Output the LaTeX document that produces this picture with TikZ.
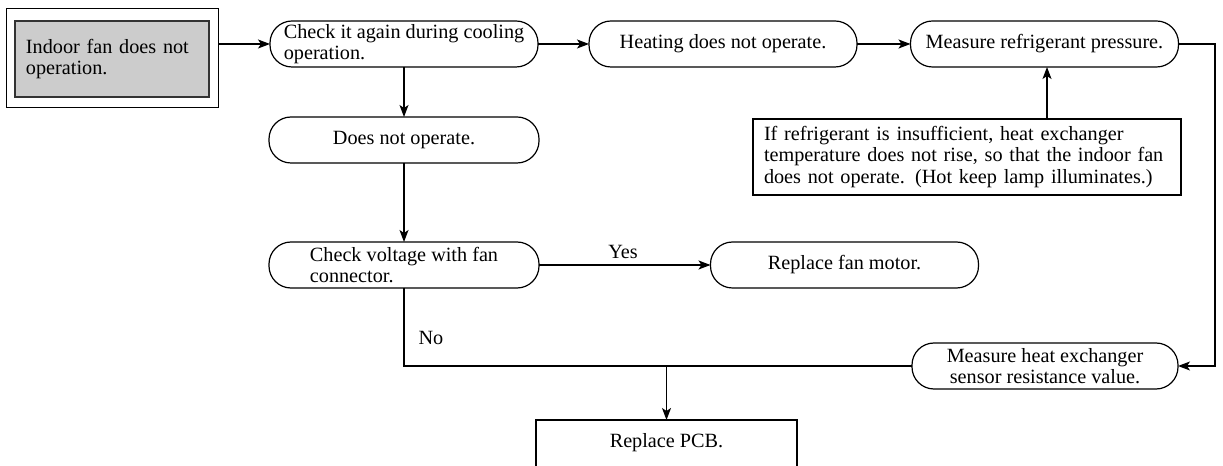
\documentclass[tikz,border=0pt]{standalone}
\usepackage{fontspec}
\setmainfont{Liberation Serif}
\usetikzlibrary{arrows.meta,calc}
\definecolor{boxgray}{HTML}{CCCCCC}
\begin{document}
\begin{tikzpicture}[x=1bp,y=-1bp,
  every node/.style={font=\fontsize{20.3}{21.5}\selectfont, inner sep=0pt, outer sep=0pt},
  pill/.style={draw, line width=1.2bp, rounded corners=22bp, minimum width=268bp, minimum height=46bp, align=center},
  pillL/.style={pill, align=left},
  notebox/.style={draw, line width=1.2bp, minimum width=428bp, minimum height=76bp, text width=406bp, align=left},
  arr/.style={line width=1.2bp, -{Stealth[length=12bp,width=9bp,inset=3bp]}},
  conn/.style={line width=1.2bp},
  lbl/.style={}]
\useasboundingbox (0,0) rectangle (1223,466);
\fill[white] (0,0) rectangle (1223,466);
% start box
\node[draw, line width=1bp, minimum width=211bp, minimum height=99bp] (startout) at (112.5,58.5) {};
\node[draw, line width=1.2bp, draw=black!80, fill=boxgray, minimum width=194bp, minimum height=76bp,
      text width=172bp, align=left] (startin) at (112,59) {\raisebox{-4bp}{\parbox{172bp}{Indoor fan does not\\operation.}}};
% top row
\node[pillL] (check1) at (404,44) {Check it again during cooling\\operation.};
\node[pill] (heating) at (723,44) {Heating does not operate.};
\node[pill] (pressure) at (1044.5,44) {Measure refrigerant pressure.};
\node[notebox] (note) at (967,157) {If refrigerant is insufficient, heat exchanger\\temperature does not rise, so that the indoor fan\\does not operate. (Hot keep lamp illuminates.)};
% left column
\node[pill, minimum width=270bp] (doesnot) at (404,140) {Does not operate.};
\node[pillL, minimum width=270bp] (voltage) at (404,265) {Check voltage with fan\\connector.};
\node[pill] (motor) at (844.5,265) {Replace fan motor.};
\node[pill, minimum width=266bp] (sensor) at (1045,366) {Measure heat exchanger\\sensor resistance value.};
\node[minimum width=261bp, minimum height=46bp] (pcb) at (666.5,443) {Replace PCB.};
\draw[line width=1.2bp] (pcb.south west) -- (pcb.north west) -- (pcb.north east) -- (pcb.south east);
% labels
\node[lbl] (yes) at (623,252) {Yes};
\node[lbl] (no) at (431,338) {No};
% connectors
\draw[arr] (startout.east |- check1.west) -- (check1.west);
\draw[arr] (check1.east) -- (heating.west);
\draw[arr] (heating.east) -- (pressure.west);
\draw[arr] (note.north -| 1047,0) -- (pressure.south -| 1047,0);
\coordinate (rt) at (1215,44);
\draw[arr] (pressure.east) -- (rt) |- (sensor.east);
\draw[arr] (check1.south) -- (doesnot.north);
\draw[arr] (doesnot.south) -- (voltage.north);
\draw[arr] (voltage.east) -- (motor.west);
\draw[conn] (voltage.south) |- (sensor.west);
\draw[arr] (pcb.north |- sensor.west) -- (pcb.north);
\end{tikzpicture}
\end{document}
